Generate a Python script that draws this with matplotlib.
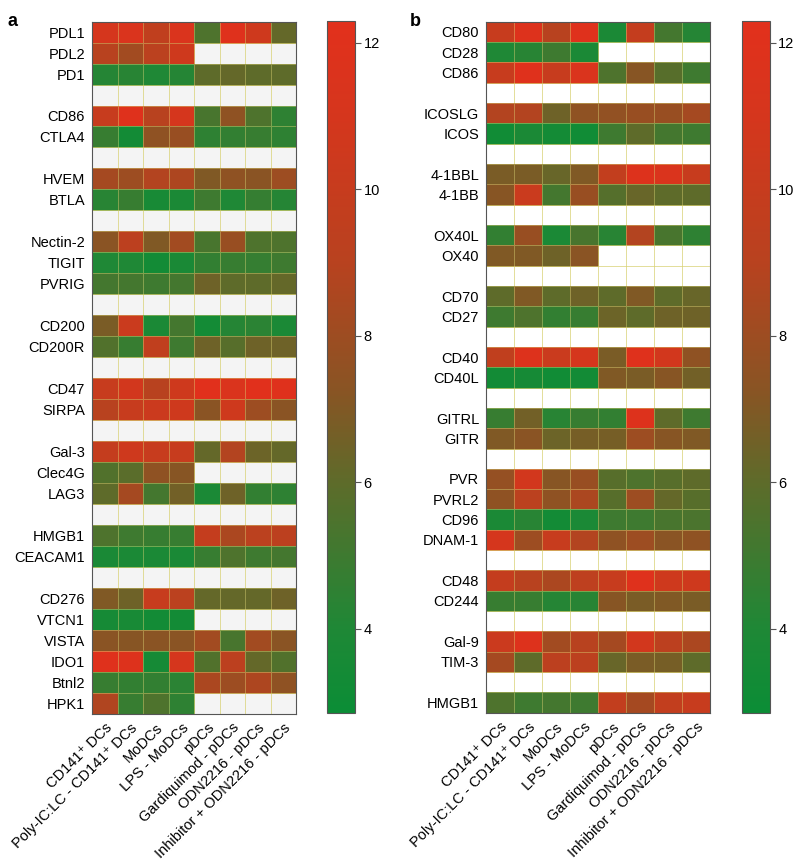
import numpy as np
import matplotlib
matplotlib.use("Agg")
import matplotlib.pyplot as plt
from matplotlib.colors import LinearSegmentedColormap

plt.rcParams['font.family'] = ['Liberation Sans', 'DejaVu Sans']
plt.rcParams['font.size'] = 10.5

nan = np.nan
GAP = [nan] * 8

columns = ['CD141⁺ DCs', 'Poly-IC:LC - CD141⁺ DCs', 'MoDCs', 'LPS - MoDCs',
           'pDCs', 'Gardiquimod - pDCs', 'ODN2216 - pDCs', 'Inhibitor + ODN2216 - pDCs']

# panel a ('' = blank spacer row)
labels_a = ['PDL1', 'PDL2', 'PD1', '', 'CD86', 'CTLA4', '', 'HVEM', 'BTLA', '',
            'Nectin-2', 'TIGIT', 'PVRIG', '', 'CD200', 'CD200R', '', 'CD47', 'SIRPA', '',
            'Gal-3', 'Clec4G', 'LAG3', '', 'HMGB1', 'CEACAM1', '',
            'CD276', 'VTCN1', 'VISTA', 'IDO1', 'Btnl2', 'HPK1']
values_a = [
    [11.0, 11.5, 9.5, 11.5, 5.5, 12.0, 10.5, 6.2],
    [9.0, 8.2, 9.2, 10.5, nan, nan, nan, nan],
    [4.2, 4.3, 4.0, 4.2, 6.0, 6.2, 6.0, 6.0],
    GAP,
    [10.0, 12.0, 9.0, 11.0, 5.3, 7.5, 5.5, 4.5],
    [4.8, 3.3, 7.5, 7.8, 4.5, 4.6, 4.8, 4.5],
    GAP,
    [8.3, 8.0, 8.8, 8.6, 7.0, 7.5, 7.3, 8.0],
    [4.3, 4.8, 3.6, 3.8, 5.0, 4.0, 4.7, 4.2],
    GAP,
    [7.3, 9.3, 7.0, 8.2, 5.3, 7.8, 5.5, 5.5],
    [4.0, 4.0, 3.3, 3.7, 4.6, 4.8, 4.7, 5.0],
    [5.2, 5.2, 5.0, 5.2, 6.5, 6.0, 6.0, 6.2],
    GAP,
    [6.8, 10.2, 3.8, 5.2, 3.4, 4.2, 4.4, 3.8],
    [5.6, 4.8, 9.5, 5.0, 6.5, 5.8, 6.5, 6.5],
    GAP,
    [10.0, 10.8, 9.0, 10.5, 12.2, 11.5, 12.2, 12.0],
    [9.0, 10.0, 10.3, 10.5, 7.3, 10.5, 8.0, 7.3],
    GAP,
    [9.8, 10.5, 10.0, 10.0, 6.2, 8.8, 6.4, 6.2],
    [5.6, 5.9, 7.5, 7.2, nan, nan, nan, nan],
    [6.0, 8.3, 5.2, 6.6, 3.8, 6.5, 4.6, 4.5],
    GAP,
    [5.5, 5.0, 4.8, 4.8, 9.8, 8.5, 9.2, 9.3],
    [3.7, 3.8, 3.8, 3.7, 4.8, 5.5, 5.0, 5.2],
    GAP,
    [7.0, 6.5, 10.0, 9.2, 6.2, 6.2, 6.2, 6.5],
    [3.5, 3.6, 3.3, 3.3, nan, nan, nan, nan],
    [7.3, 7.2, 7.3, 7.3, 8.2, 5.3, 8.2, 7.3],
    [12.0, 11.8, 3.5, 11.0, 5.6, 9.3, 6.2, 5.6],
    [4.8, 4.6, 4.6, 4.4, 8.5, 8.0, 8.6, 7.5],
    [8.7, 4.8, 5.5, 4.5, nan, nan, nan, nan],
]

# panel b
labels_b = ['CD80', 'CD28', 'CD86', '', 'ICOSLG', 'ICOS', '', '4-1BBL', '4-1BB', '',
            'OX40L', 'OX40', '', 'CD70', 'CD27', '', 'CD40', 'CD40L', '', 'GITRL', 'GITR', '',
            'PVR', 'PVRL2', 'CD96', 'DNAM-1', '', 'CD48', 'CD244', '', 'Gal-9', 'TIM-3', '',
            'HMGB1']
values_b = [
    [10.0, 11.8, 9.0, 12.0, 3.8, 9.8, 5.2, 4.2],
    [4.0, 4.3, 5.0, 3.8, nan, nan, nan, nan],
    [10.0, 12.0, 10.0, 11.5, 5.5, 7.2, 5.8, 5.0],
    GAP,
    [8.8, 8.8, 6.5, 7.5, 7.6, 7.8, 7.8, 8.3],
    [3.2, 3.8, 3.4, 3.2, 5.0, 6.0, 5.2, 5.0],
    GAP,
    [6.8, 6.8, 6.3, 7.0, 9.7, 11.8, 11.5, 10.0],
    [7.2, 10.2, 5.2, 7.8, 5.7, 6.3, 6.0, 6.0],
    GAP,
    [4.6, 7.8, 3.8, 5.3, 4.3, 8.8, 5.3, 4.5],
    [7.0, 7.0, 6.5, 7.3, nan, nan, nan, nan],
    GAP,
    [6.0, 7.0, 6.0, 6.5, 6.0, 7.0, 6.0, 6.3],
    [5.0, 5.5, 4.6, 4.8, 6.4, 6.0, 6.5, 6.5],
    GAP,
    [9.5, 11.8, 10.2, 11.0, 6.8, 12.0, 10.8, 7.5],
    [3.3, 3.5, 3.2, 3.3, 7.0, 6.8, 7.2, 6.6],
    GAP,
    [4.8, 6.6, 4.3, 4.8, 4.6, 11.8, 6.0, 5.0],
    [7.0, 7.3, 6.4, 6.7, 6.7, 8.0, 7.2, 7.0],
    GAP,
    [7.7, 10.8, 7.2, 7.8, 5.8, 5.5, 5.8, 6.0],
    [7.5, 9.2, 7.5, 8.5, 5.8, 8.0, 6.2, 5.8],
    [3.8, 4.3, 3.3, 3.8, 5.0, 5.0, 5.3, 5.4],
    [11.0, 8.0, 10.0, 8.8, 7.5, 8.0, 7.3, 7.5],
    GAP,
    [9.8, 9.0, 8.5, 9.4, 10.0, 12.0, 10.5, 10.5],
    [4.8, 4.8, 4.2, 4.3, 7.2, 6.8, 7.0, 6.8],
    GAP,
    [10.3, 11.8, 8.2, 9.0, 8.3, 10.8, 9.3, 8.5],
    [8.3, 6.0, 9.3, 9.3, 6.3, 6.8, 6.7, 6.0],
    GAP,
    [5.5, 5.0, 5.2, 5.0, 9.7, 8.3, 9.7, 10.0],
]

vmin, vmax = 2.85, 12.3
cmap = LinearSegmentedColormap.from_list('gr', [
    ((2.85 - vmin) / (vmax - vmin), '#0b8d36'),
    ((4.0 - vmin) / (vmax - vmin), '#1f8836'),
    ((6.0 - vmin) / (vmax - vmin), '#5e6b2a'),
    ((7.2 - vmin) / (vmax - vmin), '#875524'),
    ((9.0 - vmin) / (vmax - vmin), '#b8421f'),
    ((11.0 - vmin) / (vmax - vmin), '#d5361d'),
    (1.0, '#e2301c'),
])

fig = plt.figure(figsize=(8, 8.65), dpi=100)


def draw_panel(rect, cbar_rect, labels, values, letter, letter_x, bg):
    ax = fig.add_axes(rect)
    data = np.ma.masked_invalid(np.array(values, dtype=float))
    mesh = ax.pcolormesh(data, cmap=cmap, vmin=vmin, vmax=vmax,
                         edgecolors=(0.85, 0.82, 0.45, 0.45), linewidth=0.5)
    ax.set_facecolor(bg)
    ax.set_xlim(0, len(columns))
    ax.set_ylim(len(labels), 0)
    ax.set_yticks(np.arange(len(labels)) + 0.5)
    ax.set_yticklabels(labels)
    ax.set_xticks(np.arange(len(columns)) + 0.5)
    ax.set_xticklabels(columns, rotation=45, ha='right', rotation_mode='anchor')
    ax.tick_params(length=0, pad=5)
    for s in ax.spines.values():
        s.set_color('#555555')
        s.set_linewidth(0.8)

    cax = fig.add_axes(cbar_rect)
    cb = fig.colorbar(mesh, cax=cax)
    cb.set_ticks([4, 6, 8, 10, 12])
    cb.outline.set_edgecolor('#555555')
    cb.outline.set_linewidth(0.8)
    cax.tick_params(length=4, width=0.8, color='#555555', pad=2)

    fig.text(letter_x, 0.985, letter, fontsize=13, fontweight='bold', va='top')


draw_panel([0.115, 0.175, 0.255, 0.8], [0.409, 0.176, 0.035, 0.800],
           labels_a, values_a, 'a', 0.01, '#f4f4f4')
draw_panel([0.6075, 0.176, 0.28, 0.799], [0.9275, 0.176, 0.035, 0.800],
           labels_b, values_b, 'b', 0.512, '#ffffff')

fig.savefig('out.png', dpi=100)
